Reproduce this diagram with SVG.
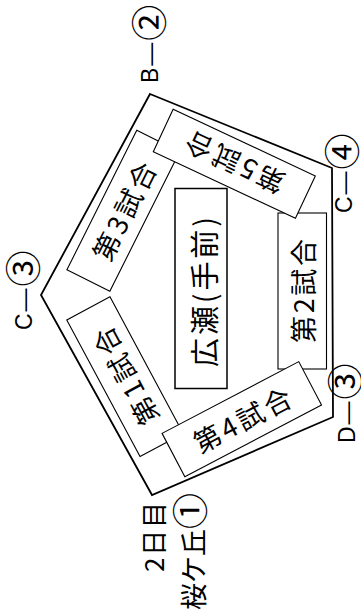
<svg xmlns="http://www.w3.org/2000/svg" width="361" height="614" viewBox="0 0 361 614">
<style>
.bg{fill:#fff}
.outer{fill:#fff;stroke:#000;stroke-width:1.8;stroke-linejoin:miter}
.box{fill:#fff;stroke:#000;stroke-width:1.1}
.jp{font-family:"Noto Sans CJK JP","Noto Sans CJK SC",sans-serif;fill:#000}
.lbl{font-family:"Liberation Sans","Noto Sans CJK JP",sans-serif;font-size:23px;fill:#000;letter-spacing:2px}
.circ{font-family:"Noto Sans CJK JP",sans-serif;font-size:36px;letter-spacing:0}
.t{font-size:27px;text-anchor:middle;dominant-baseline:central}
</style>
<rect class="bg" x="0" y="0" width="361" height="614"/>
<g id="connectors">
<polygon class="outer" points="150,94 332,168 333,417 152,495 41,295"/>
</g>
<g id="game3" transform="translate(123.3,210.8) rotate(-63.4)">
<rect class="box" x="-78" y="-24" width="156" height="48"/>
<text class="jp t" x="0" y="0" textLength="106" lengthAdjust="spacing">第3試合</text>
</g>
<g id="game1" transform="translate(125,376.7) rotate(61.8)">
<rect class="box" x="-77.5" y="-24.5" width="155" height="49"/>
<text class="jp t" x="0" y="0" transform="rotate(180)" textLength="106" lengthAdjust="spacing">第1試合</text>
</g>
<g id="game2">
<rect class="box" x="278" y="213" width="48.5" height="156"/>
<text class="jp t" transform="translate(302,291) rotate(-90)" x="0" y="0" textLength="104" lengthAdjust="spacing">第2試合</text>
</g>
<g id="hirose">
<rect class="box" x="175" y="188.5" width="52" height="200" style="stroke-width:1.5"/>
<text class="jp t" transform="translate(203,292) rotate(-90)" x="0" y="0" style="font-size:29px" textLength="150" lengthAdjust="spacing">広瀬(手前)</text>
</g>
<g id="game5" transform="translate(234.3,163.8) rotate(25.1)">
<rect class="box" x="-78.5" y="-23.4" width="157" height="46.8"/>
<text class="jp t" x="0" y="0" transform="rotate(180)" textLength="106" lengthAdjust="spacing">第5試合</text>
</g>
<g id="game4" transform="translate(241.8,419.2) rotate(-27.7)">
<rect class="box" x="-77.2" y="-24.5" width="154.4" height="49"/>
<text class="jp t" x="0" y="0" textLength="106" lengthAdjust="spacing">第4試合</text>
</g>
<g id="labelB"><text class="lbl" transform="translate(158,83) rotate(-90)">B—<tspan class="circ" dy="5">②</tspan></text></g>
<g id="labelC4"><text class="lbl" transform="translate(352,213) rotate(-90)">C—<tspan class="circ" dy="4">④</tspan></text></g>
<g id="labelC3"><text class="lbl" transform="translate(32,330) rotate(-90)">C—<tspan class="circ" dy="5">③</tspan></text></g>
<g id="labelD3"><text class="lbl" transform="translate(355,443) rotate(-90)">D—<tspan class="circ" dy="4">③</tspan></text></g>
<g id="labelStart">
<text class="jp" style="font-size:26px" transform="translate(164,572) rotate(-90)" textLength="70" lengthAdjust="spacing">2日目</text>
<text class="jp" style="font-size:27px" transform="translate(204,610) rotate(-90)">桜ケ丘<tspan class="circ">①</tspan></text>
</g>
</svg>
